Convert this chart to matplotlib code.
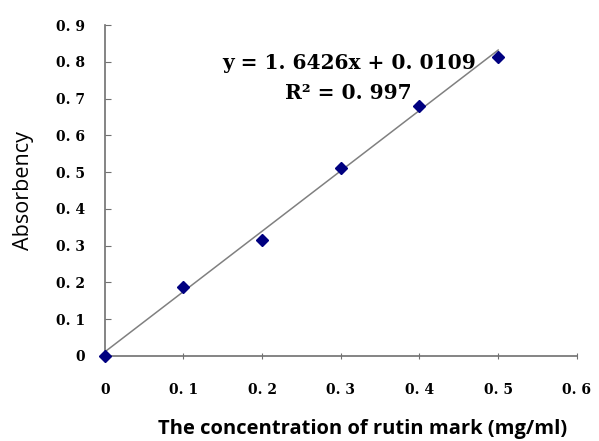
import numpy as np
import matplotlib
matplotlib.use("Agg")
import matplotlib.pyplot as plt

# rutin standard curve
conc = [0.0, 0.1, 0.2, 0.3, 0.4, 0.5]
absorb = [0.0, 0.188, 0.316, 0.510, 0.681, 0.813]
slope, intercept = 1.6426, 0.0109
xticks = [0, 0.1, 0.2, 0.3, 0.4, 0.5, 0.6]
yticks = [0, 0.1, 0.2, 0.3, 0.4, 0.5, 0.6, 0.7, 0.8, 0.9]

fig = plt.figure(figsize=(5.99, 4.41), dpi=100)
ax = fig.add_axes([0.175, 0.193, 0.788, 0.750])

fit_x = np.array([conc[0], conc[-1]])
ax.plot(fit_x, slope * fit_x + intercept, color="#808080", lw=1.1, zorder=2)
ax.plot(conc, absorb, "D", color="#000080", ms=6.5, mec="#000080", zorder=3, clip_on=False)

ax.set_xlim(0, 0.6)
ax.set_ylim(0, 0.9)
ax.set_xticks(xticks)
ax.set_yticks(yticks)

def lab(v):
    return "0" if v == 0 else "0. %d" % round(v * 10)

tickfont = dict(family="DejaVu Serif", weight="bold", size=10)
ax.set_xticklabels([lab(v) for v in xticks], fontdict=tickfont)
ax.set_yticklabels([lab(v) for v in yticks], fontdict=tickfont)

for s in ["top", "right"]:
    ax.spines[s].set_visible(False)
for s in ["left", "bottom"]:
    ax.spines[s].set_color("#707070")
    ax.spines[s].set_linewidth(1.2)
ax.tick_params(axis="x", direction="inout", length=5, color="#707070", pad=17)
ax.tick_params(axis="y", direction="in", length=4, color="#707070", pad=14)

ax.set_xlabel("The concentration of rutin mark (mg/ml)", family="Open Sans",
              weight="bold", fontsize=14.5)
ax.xaxis.set_label_coords(0.547, -0.19)
ax.set_ylabel("Absorbency", family="Open Sans", fontsize=15.5, labelpad=16)

ax.text(0.310, 0.797, "y = 1. 6426x + 0. 0109", family="DejaVu Serif", weight="bold",
        fontsize=14.5, ha="center", va="center")
ax.text(0.309, 0.715, "R² = 0. 997", family="DejaVu Serif", weight="bold",
        fontsize=14.5, ha="center", va="center")

fig.savefig("out.png", dpi=100)
